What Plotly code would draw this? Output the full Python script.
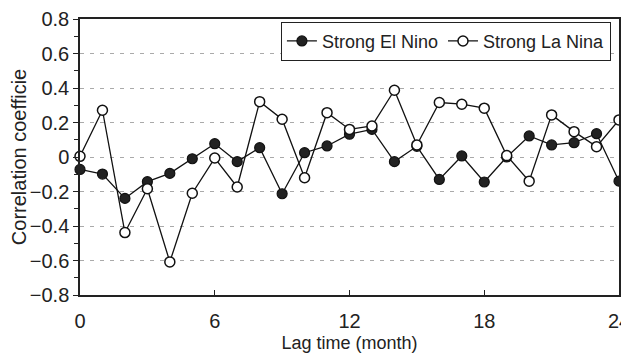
import plotly.graph_objects as go

lag = list(range(25))
el_nino = [-0.072, -0.099, -0.24, -0.143, -0.095, -0.01, 0.077, -0.027, 0.054, -0.213,
           0.025, 0.064, 0.132, 0.16, -0.027, 0.062, -0.13, 0.006, -0.145, 0.0,
           0.122, 0.07, 0.083, 0.135, -0.14]
la_nina = [0.004, 0.271, -0.438, -0.184, -0.608, -0.21, -0.006, -0.174, 0.321, 0.219,
           -0.12, 0.257, 0.16, 0.18, 0.387, 0.07, 0.316, 0.306, 0.283, 0.008,
           -0.14, 0.244, 0.147, 0.06, 0.215]
y_ticks = [0.8, 0.6, 0.4, 0.2, 0, -0.2, -0.4, -0.6, -0.8]
y_labels = ["0.8", "0.6", "0.4", "0.2", "0", "\u22120.2", "\u22120.4", "\u22120.6", "\u22120.8"]
x_ticks = [0, 6, 12, 18, 24]

font = "Liberation Sans, Arial, sans-serif"

fig = go.Figure()
fig.add_trace(go.Scatter(
    x=lag, y=el_nino, name="Strong El Nino", mode="lines+markers",
    line=dict(color="#111", width=1.3), cliponaxis=False,
    marker=dict(symbol="circle", size=10, color="#222", line=dict(color="#111", width=1.2)),
))
fig.add_trace(go.Scatter(
    x=lag, y=la_nina, name="Strong La Nina", mode="lines+markers",
    line=dict(color="#111", width=1.3), cliponaxis=False,
    marker=dict(symbol="circle", size=10, color="white", line=dict(color="#111", width=1.5)),
))

fig.update_layout(
    width=629, height=355,
    margin=dict(l=72, r=18, t=11, b=68),
    paper_bgcolor="white", plot_bgcolor="white",
    font=dict(family=font, size=18, color="#222"),
    showlegend=True,
    legend=dict(
        orientation="h", x=0.985, y=0.99, xanchor="right", yanchor="top",
        bordercolor="#222", borderwidth=1, bgcolor="white",
        font=dict(size=18, family=font), itemwidth=30, tracegroupgap=0,
    ),
    xaxis=dict(
        range=[0, 24], tickvals=x_ticks, ticks="inside", ticklen=5, tickcolor="#222",
        showline=True, linecolor="#222", linewidth=1.5, mirror=True,
        showgrid=False, zeroline=False, automargin=False,
        ticklabelstandoff=7,
        title=dict(text="Lag time (month)", font=dict(size=18), standoff=6),
        tickfont=dict(size=20),
    ),
    yaxis=dict(
        range=[-0.8, 0.8], tickvals=y_ticks, ticktext=y_labels,
        ticks="outside", ticklen=5, tickcolor="#222",
        showline=True, linecolor="#222", linewidth=1.5, mirror=True,
        showgrid=True, gridcolor="#aaa", griddash="4px,6px", gridwidth=1,
        zeroline=False, automargin=False,
        minor=dict(dtick=0.1, ticks="outside", ticklen=4, tickcolor="#222", showgrid=False),
        title=dict(text="Correlation coefficie", font=dict(size=20), standoff=6),
        tickfont=dict(size=20),
    ),
)

fig.write_html("out.html")
